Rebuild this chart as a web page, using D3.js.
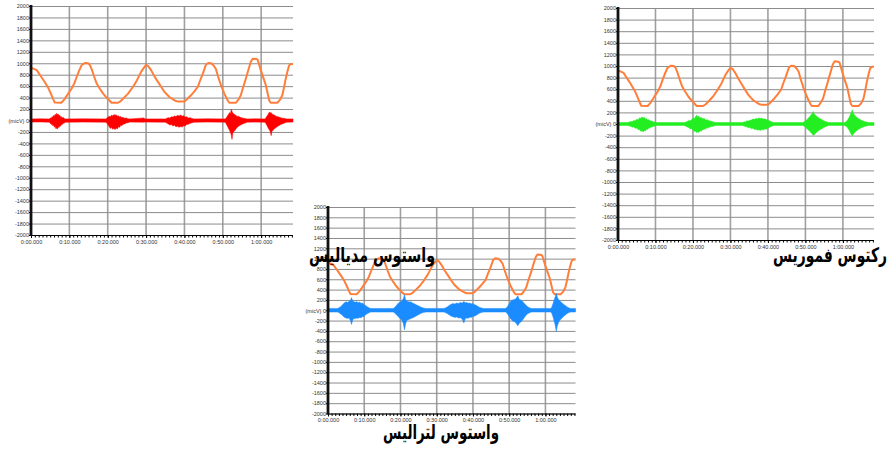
<!DOCTYPE html>
<html>
<head>
<meta charset="utf-8">
<script src="https://cdn.jsdelivr.net/npm/d3@7"></script>
<style>
  body { margin: 0; background: #fff; }
  svg { display: block; }
</style>
</head>
<body>
<div id="chart"></div>
<script>
// three EMG recordings (vastus medialis, rectus femoris, vastus lateralis)
// with the knee angle trace in orange over each one

var width = 891;
var height = 449;

// tick values / labels
var yTickValues = [2000, 1800, 1600, 1400, 1200, 1000, 800, 600, 400, 200, 0,
  -200, -400, -600, -800, -1000, -1200, -1400, -1600, -1800, -2000];
var yTickLabels = ["2000", "1800", "1600", "1400", "1200", "1000", "800", "600", "400", "200", "(micV) 0",
  "-200", "-400", "-600", "-800", "-1000", "-1200", "-1400", "-1600", "-1800", "-2000"];
var xTickValues = [0, 10, 20, 30, 40, 50, 60];
var xTickLabels = ["0:00.000", "0:10.000", "0:20.000", "0:30.000", "0:40.000", "0:50.000", "1:00.000"];

var titles = ["واستوس مدياليس", "ركتوس فموريس", "واستوس لتراليس"];

// orange trace: [seconds, value]
var orangeTrace = [
  [0, 925], [0.3, 915], [1.5, 880], [2.3, 800], [3.4, 690], [4.5, 570], [5.3, 450], [5.8, 370], [6.2, 315],
  [7.9, 310], [8.6, 360], [9.3, 430], [10.6, 560], [11.3, 650], [11.9, 760], [12.6, 880], [13.2, 965],
  [14.0, 1005], [14.9, 1000], [15.3, 975], [15.8, 900], [16.5, 760], [17.1, 650], [17.9, 560], [18.8, 470],
  [19.7, 400], [20.5, 345], [21.0, 310], [22.7, 310], [23.4, 340], [24.0, 380], [25.3, 470], [26.6, 590],
  [27.6, 700], [28.7, 850], [29.4, 920], [30.0, 970], [30.6, 945], [31.3, 880], [32.2, 770], [33.1, 675],
  [34.0, 580], [34.8, 500], [35.5, 450], [36.1, 410], [37.0, 370], [37.8, 340], [38.4, 330], [40.0, 330],
  [40.8, 380], [41.7, 440], [42.6, 510], [43.5, 590], [44.2, 720], [44.8, 820], [45.6, 975], [46.2, 1005],
  [47.0, 1000], [47.6, 960], [48.2, 900], [48.8, 760], [49.5, 620], [50.4, 470], [51.3, 350], [51.7, 310],
  [53.4, 310], [54.0, 360], [54.7, 440], [55.3, 580], [56.0, 730], [56.7, 890], [57.3, 1025], [57.8, 1080],
  [58.7, 1075], [59.1, 1060], [59.9, 880], [60.6, 740], [61.2, 620], [61.7, 470], [62.1, 350], [62.5, 310],
  [64.2, 310], [64.9, 360], [65.5, 440], [66.0, 590], [66.4, 730], [66.9, 870], [67.3, 965], [67.8, 985],
  [68.3, 985]
];

// EMG envelopes: [seconds, upper, lower]
var redEnvelope = [
  [0, 28, -28], [2.4, 30, -26], [4.8, 28, -30],
  [5.0, 45, -50], [5.3, 40, -70], [5.5, 70, -60], [5.7, 55, -95], [5.9, 90, -80], [6.1, 75, -120],
  [6.3, 110, -100], [6.5, 95, -145], [6.7, 125, -130], [6.9, 100, -150], [7.1, 115, -110], [7.3, 80, -125],
  [7.5, 95, -90], [7.7, 60, -100], [7.9, 70, -70], [8.1, 45, -75], [8.4, 55, -50], [8.7, 35, -45], [9.0, 28, -30],
  [13.5, 30, -28], [19.5, 28, -30],
  [19.8, 45, -50], [20.1, 60, -80], [20.4, 75, -110], [20.7, 65, -140], [21.0, 95, -120], [21.3, 80, -155],
  [21.6, 105, -135], [21.9, 90, -160], [22.2, 100, -130], [22.5, 75, -150], [22.8, 85, -110], [23.1, 60, -120],
  [23.4, 70, -85], [23.7, 50, -90], [24.0, 55, -65], [24.4, 40, -60], [24.8, 45, -45], [25.3, 30, -40], [25.8, 28, -28],
  [29.5, 45, -30], [29.7, 28, -28], [35.0, 28, -30],
  [35.4, 40, -45], [35.8, 50, -60], [36.2, 45, -80], [36.6, 65, -70], [37.0, 60, -95], [37.4, 80, -85],
  [37.8, 70, -110], [38.2, 90, -100], [38.6, 80, -120], [39.0, 95, -105], [39.4, 75, -115], [39.8, 85, -90],
  [40.2, 60, -95], [40.6, 65, -70], [41.0, 45, -65], [41.5, 50, -50], [42.0, 35, -40], [42.5, 28, -30],
  [46.0, 30, -28], [50.6, 28, -30],
  [50.9, 50, -60], [51.2, 80, -100], [51.5, 110, -140], [51.8, 140, -180], [52.0, 120, -210], [52.2, 195, -250],
  [52.4, 160, -330], [52.6, 130, -220], [52.9, 115, -190], [53.2, 100, -170], [53.5, 85, -140], [53.8, 70, -120],
  [54.1, 75, -100], [54.5, 55, -85], [54.9, 50, -70], [55.3, 40, -55], [55.8, 35, -45], [56.3, 28, -30],
  [58.5, 30, -28], [61.0, 28, -30],
  [61.3, 55, -60], [61.6, 85, -100], [61.9, 120, -140], [62.2, 150, -170], [62.4, 130, -200], [62.6, 140, -265],
  [62.8, 115, -190], [63.1, 105, -170], [63.4, 95, -150], [63.7, 85, -130], [64.0, 70, -120], [64.4, 65, -95],
  [64.8, 55, -85], [65.2, 45, -65], [65.7, 40, -55], [66.2, 35, -40], [66.7, 28, -30], [68.3, 28, -28]
];

var greenEnvelope = [
  [0, 25, -25], [2.6, 25, -25],
  [3.0, 35, -35], [3.4, 45, -40], [3.8, 40, -55], [4.2, 60, -50], [4.6, 55, -75], [5.0, 80, -70], [5.4, 75, -100],
  [5.8, 110, -95], [6.1, 95, -130], [6.4, 125, -115], [6.7, 105, -140], [7.0, 115, -110], [7.3, 85, -120],
  [7.6, 95, -90], [7.9, 70, -95], [8.2, 75, -70], [8.6, 55, -65], [9.0, 50, -50], [9.4, 40, -45], [9.9, 30, -30],
  [10.3, 25, -25], [17.7, 25, -25],
  [18.1, 35, -40], [18.5, 45, -50], [18.9, 60, -65], [19.3, 55, -85], [19.7, 80, -80], [20.1, 100, -110],
  [20.4, 95, -130], [20.7, 130, -120], [21.0, 150, -150], [21.3, 120, -135], [21.6, 135, -145], [21.9, 105, -115],
  [22.2, 115, -125], [22.6, 90, -100], [23.0, 95, -90], [23.4, 70, -80], [23.8, 75, -65], [24.3, 55, -60],
  [24.8, 50, -45], [25.4, 35, -40], [26.0, 25, -25], [33.2, 25, -25],
  [33.6, 35, -35], [34.0, 40, -45], [34.4, 55, -50], [34.8, 50, -65], [35.2, 65, -60], [35.6, 70, -80],
  [36.0, 85, -75], [36.4, 80, -95], [36.8, 95, -90], [37.2, 90, -105], [37.6, 105, -100], [38.0, 95, -110],
  [38.4, 100, -95], [38.8, 85, -105], [39.2, 90, -85], [39.6, 75, -90], [40.0, 70, -70], [40.4, 55, -60],
  [40.8, 45, -45], [41.2, 30, -35], [41.6, 25, -25], [49.3, 25, -25],
  [49.7, 40, -40], [50.1, 55, -60], [50.5, 80, -85], [50.9, 110, -110], [51.3, 140, -135], [51.6, 165, -160],
  [51.9, 190, -175], [52.1, 215, -200], [52.3, 180, -190], [52.6, 160, -170], [52.9, 140, -150], [53.2, 125, -135],
  [53.6, 105, -110], [54.0, 90, -95], [54.4, 75, -80], [54.8, 60, -65], [55.3, 45, -50], [55.8, 35, -35],
  [56.2, 25, -25], [60.5, 25, -25],
  [60.9, 45, -45], [61.3, 75, -70], [61.7, 120, -110], [62.0, 165, -150], [62.3, 210, -185], [62.5, 245, -205],
  [62.7, 200, -180], [63.0, 165, -160], [63.3, 140, -135], [63.7, 115, -115], [64.1, 95, -95], [64.5, 80, -80],
  [64.9, 65, -65], [65.4, 50, -50], [65.9, 40, -40], [66.5, 30, -30], [66.9, 25, -25], [68.3, 25, -25]
];

var blueEnvelope = [
  [0, 35, -35], [2.6, 35, -35],
  [3.0, 50, -45], [3.4, 65, -70], [3.8, 90, -85], [4.2, 120, -115], [4.6, 150, -140], [5.0, 165, -150],
  [5.4, 150, -160], [5.8, 175, -150], [6.2, 190, -200], [6.5, 245, -275], [6.8, 180, -190], [7.1, 170, -160],
  [7.5, 155, -165], [7.9, 170, -150], [8.3, 145, -155], [8.7, 160, -140], [9.1, 135, -145], [9.5, 140, -125],
  [9.9, 110, -120], [10.3, 95, -90], [10.8, 70, -70], [11.3, 50, -50], [11.8, 35, -35], [18.0, 35, -35],
  [18.4, 55, -55], [18.8, 85, -80], [19.2, 120, -110], [19.6, 150, -140], [20.0, 165, -170], [20.4, 180, -190],
  [20.8, 230, -260], [21.1, 300, -380], [21.4, 210, -270], [21.7, 180, -200], [22.1, 170, -185], [22.5, 160, -175],
  [22.9, 165, -160], [23.3, 140, -150], [23.7, 130, -135], [24.1, 115, -120], [24.6, 95, -100], [25.1, 80, -80],
  [25.7, 60, -60], [26.3, 45, -45], [27.0, 35, -35], [32.0, 35, -35],
  [32.5, 50, -50], [33.0, 70, -70], [33.5, 95, -90], [34.0, 115, -115], [34.5, 130, -125], [35.0, 120, -140],
  [35.5, 140, -130], [36.0, 130, -150], [36.5, 150, -145], [37.0, 140, -170], [37.5, 170, -245], [37.9, 145, -160],
  [38.3, 150, -150], [38.7, 135, -155], [39.1, 140, -135], [39.5, 125, -140], [39.9, 130, -120], [40.4, 110, -115],
  [40.9, 95, -95], [41.4, 75, -75], [41.9, 55, -55], [42.4, 42, -42], [42.9, 35, -35], [49.0, 35, -35],
  [49.4, 60, -60], [49.8, 100, -100], [50.2, 150, -145], [50.6, 190, -185], [51.0, 200, -210], [51.4, 210, -220],
  [51.8, 220, -240], [52.1, 250, -270], [52.4, 280, -300], [52.7, 220, -260], [53.0, 205, -235], [53.4, 190, -215],
  [53.8, 165, -180], [54.2, 130, -140], [54.6, 100, -100], [55.1, 70, -70], [55.6, 50, -50], [56.1, 35, -35],
  [61.5, 35, -35],
  [61.8, 70, -70], [62.1, 130, -130], [62.4, 200, -210], [62.7, 260, -290], [63.0, 330, -410], [63.3, 250, -300],
  [63.6, 210, -240], [63.9, 185, -205], [64.3, 160, -170], [64.7, 135, -140], [65.1, 110, -115], [65.5, 90, -90],
  [66.0, 65, -65], [66.5, 45, -45], [67.0, 35, -35], [68.3, 35, -35]
];

// panel layout (pixels)
var panels = [
  { left: 31, right: 293, top: 6, bottom: 235, emg: redEnvelope, color: "#ff0000" },
  { left: 618, right: 874, top: 8, bottom: 240, emg: greenEnvelope, color: "#22ee22" },
  { left: 328, right: 575.5, top: 207, bottom: 413.5, emg: blueEnvelope, color: "#1a8cff" }
];

var titlePos = [
  { x: 372, y: 262, w: 126 },
  { x: 830, y: 262, w: 114 },
  { x: 441, y: 439, w: 116 }
];

var svg = d3.select("#chart").append("svg")
  .attr("width", width)
  .attr("height", height);

panels.forEach(function(p) { drawPanel(p); });

svg.append("g")
  .attr("class", "titles")
  .selectAll("text")
  .data(titles)
  .enter().append("text")
    .attr("x", function(d, i) { return titlePos[i].x; })
    .attr("y", function(d, i) { return titlePos[i].y; })
    .attr("text-anchor", "middle")
    .attr("textLength", function(d, i) { return titlePos[i].w; })
    .attr("lengthAdjust", "spacingAndGlyphs")
    .attr("font-family", "DejaVu Sans, sans-serif")
    .attr("font-weight", "bold")
    .attr("font-size", "20px")
    .attr("fill", "#000")
    .text(function(d) { return d; });


function drawPanel(p) {
  var g = svg.append("g");

  var x = d3.scaleLinear().domain([0, 68.3]).range([p.left, p.right]);
  var y = d3.scaleLinear().domain([-2000, 2000]).range([p.bottom, p.top]);

  // grid
  g.append("g").selectAll("line")
    .data(xTickValues.slice(1))
    .enter().append("line")
      .attr("x1", function(d) { return x(d); })
      .attr("x2", function(d) { return x(d); })
      .attr("y1", p.top)
      .attr("y2", p.bottom)
      .attr("stroke", "#a0a0a0")
      .attr("stroke-width", 1.6);

  g.append("g").selectAll("line")
    .data(yTickValues)
    .enter().append("line")
      .attr("x1", p.left)
      .attr("x2", p.right)
      .attr("y1", function(d) { return y(d) + 0.5; })
      .attr("y2", function(d) { return y(d) + 0.5; })
      .attr("stroke", "#8c8c8c")
      .attr("stroke-width", 1);

  // orange trace
  var line = d3.line()
    .x(function(d) { return x(d[0]); })
    .y(function(d) { return y(d[1]); });

  g.append("path")
    .datum(orangeTrace)
    .attr("d", line)
    .attr("fill", "none")
    .attr("stroke", "#ff7f3a")
    .attr("stroke-width", 2)
    .attr("stroke-linejoin", "round");

  // emg envelope
  var area = d3.area()
    .x(function(d) { return x(d[0]); })
    .y0(function(d) { return y(d[2]); })
    .y1(function(d) { return y(d[1]); });

  g.append("path")
    .datum(p.emg)
    .attr("d", area)
    .attr("fill", p.color)
    .attr("stroke", p.color)
    .attr("stroke-width", 0.5);

  // x axis with 1 s minor ticks
  var xAxis = d3.axisBottom(x)
    .tickValues(xTickValues)
    .tickSize(3)
    .tickFormat(function(d, i) { return xTickLabels[i]; });

  var minor = d3.axisBottom(x)
    .tickValues(d3.range(0, 69, 1))
    .tickSize(2.5)
    .tickFormat("");

  g.append("g")
    .attr("transform", "translate(0," + p.bottom + ")")
    .call(minor)
    .call(function(s) { s.select(".domain").remove(); })
    .selectAll("line").attr("stroke", "#000");

  var xa = g.append("g")
    .attr("transform", "translate(0," + p.bottom + ")")
    .call(xAxis);
  xa.select(".domain").attr("stroke", "#000").attr("d", "M" + p.left + ",0.5H" + p.right);
  xa.selectAll("line").attr("stroke", "#000");
  xa.selectAll("text")
    .attr("y", 5)
    .attr("dy", "0.71em")
    .attr("font-family", "Liberation Sans, Arial, sans-serif")
    .attr("font-size", "5.5px")
    .attr("fill", "#333");

  // y axis
  var yAxis = d3.axisLeft(y)
    .tickValues(yTickValues)
    .tickSize(2)
    .tickFormat(function(d, i) { return yTickLabels[i]; });

  var ya = g.append("g")
    .attr("transform", "translate(" + p.left + ",0)")
    .call(yAxis);
  ya.select(".domain").remove();
  ya.selectAll("line").attr("stroke", "#000");
  ya.selectAll("text")
    .attr("x", -2)
    .attr("font-family", "Liberation Sans, Arial, sans-serif")
    .attr("font-size", "5.5px")
    .attr("fill", "#333");

  g.append("line")
    .attr("x1", p.left)
    .attr("x2", p.left)
    .attr("y1", p.top - 1)
    .attr("y2", p.bottom + 1)
    .attr("stroke", "#111")
    .attr("stroke-width", 2.8);
}
</script>
</body>
</html>
